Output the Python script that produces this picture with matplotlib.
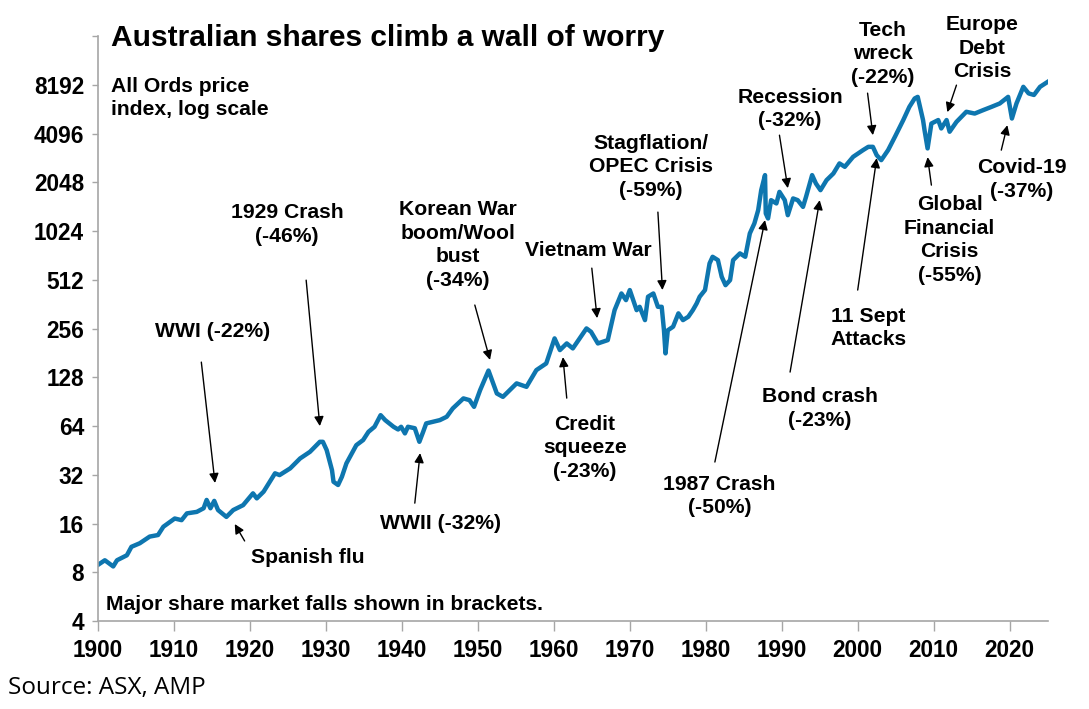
import numpy as np
import matplotlib
matplotlib.use('Agg')
import matplotlib.pyplot as plt
from matplotlib.ticker import FixedLocator, FixedFormatter

plt.rcParams['font.family'] = ['Liberation Sans', 'DejaVu Sans']

# All Ords price index
years = [1900.0, 1900.9, 1902.0, 1902.5, 1903.8, 1904.4, 1905.5, 1906.8, 1907.9, 1908.6,
         1910.1, 1911.0, 1911.7, 1913.0, 1913.9, 1914.3, 1914.8, 1915.3, 1915.8, 1916.9,
         1917.8, 1919.1, 1920.4, 1920.9, 1921.8, 1923.3, 1923.9, 1925.3, 1926.6, 1927.9,
         1929.2, 1929.6, 1930.1, 1930.8, 1931.0, 1931.6, 1932.1, 1932.7, 1934.0, 1934.9,
         1935.6, 1936.4, 1937.2, 1937.8, 1938.9, 1939.5, 1939.9, 1940.4, 1940.8, 1941.7,
         1942.3, 1942.8, 1943.2, 1945.0, 1945.9, 1946.7, 1948.1, 1948.9, 1949.5, 1950.3,
         1951.4, 1952.5, 1953.3, 1955.1, 1956.4, 1957.7, 1959.0, 1960.1, 1960.8, 1961.7,
         1962.5, 1964.3, 1964.9, 1965.8, 1967.1, 1968.0, 1968.9, 1969.5, 1970.0, 1970.9,
         1971.3, 1972.0, 1972.4, 1973.1, 1973.7, 1974.2, 1974.5, 1974.7, 1975.0, 1975.7,
         1976.4, 1977.0, 1977.7, 1978.3, 1978.8, 1979.2, 1979.9, 1980.5, 1980.9, 1981.6,
         1982.1, 1982.6, 1983.2, 1983.6, 1984.5, 1985.2, 1985.8, 1986.4, 1986.9, 1987.3,
         1987.8, 1987.9, 1988.2, 1988.6, 1989.3, 1989.7, 1990.4, 1990.8, 1991.5, 1992.1,
         1992.8, 1993.2, 1994.0, 1994.5, 1995.1, 1995.9, 1996.8, 1997.6, 1998.3, 1999.4,
         2000.7, 2001.4, 2002.0, 2002.5, 2003.1, 2004.0, 2004.9, 2006.0, 2006.8, 2007.5,
         2007.9, 2008.2, 2008.6, 2008.8, 2009.2, 2009.7, 2010.6, 2011.0, 2011.7, 2012.1,
         2013.0, 2014.3, 2015.4, 2016.5, 2017.6, 2018.7, 2019.8, 2020.3, 2020.9, 2021.8,
         2022.5, 2023.2, 2024.0, 2025.0]
index = [8.9, 9.5, 8.7, 9.5, 10.2, 11.5, 12.1, 13.3, 13.6, 15.3,
         17.2, 16.8, 18.5, 18.9, 19.9, 22.4, 19.9, 22.1, 19.4, 17.6,
         19.4, 20.8, 24.6, 22.9, 25.2, 32.7, 31.9, 35.1, 40.4, 44.4,
         51.2, 51.2, 45.5, 34.2, 29.0, 27.7, 31.1, 37.7, 48.8, 52.5,
         59.0, 63.4, 74.8, 69.7, 63.4, 61.0, 63.4, 57.7, 63.4, 62.1,
         51.2, 59.0, 66.5, 69.7, 73.1, 82.3, 94.9, 92.6, 84.2, 106.8,
         141, 101.8, 97, 117.5, 111.9, 141.9, 156, 222.8, 188.6, 207.4,
         193.2, 256.7, 244.6, 207.4, 217.4, 333, 422, 384, 443, 333,
         349, 289, 403, 422, 349, 349, 250, 180, 250, 263,
         318, 289, 303, 333, 366, 403, 443, 647, 711, 678,
         535, 475, 510, 678, 746, 711, 991, 1143, 1380, 1834,
         2271, 1317, 1226, 1591, 1518, 1790, 1591, 1285, 1630, 1591,
         1446, 1668, 2271, 2017, 1834, 2114, 2325, 2682, 2556, 2946,
         3240, 3396, 3396, 3017, 2810, 3240, 3915, 4970, 5992, 6756,
         6910, 5992, 4970, 4300, 3320, 4730, 4970, 4410, 4970, 4210,
         4840, 5590, 5450, 5720, 5992, 6290, 6910, 5080, 6290, 7970,
         7260, 7100, 7970, 8550]

yticks = [4, 8, 16, 32, 64, 128, 256, 512, 1024, 2048, 4096, 8192, 16384]
ytick_labels = ['4', '8', '16', '32', '64', '128', '256', '512', '1024', '2048', '4096', '8192', '']
xticks = [1900, 1910, 1920, 1930, 1940, 1950, 1960, 1970, 1980, 1990, 2000, 2010, 2020]

# (text, text position, arrow tail, arrow tip) in data units
events = [
    ('WWI (-22%)', (1915.1, 247), (1913.6, 159), (1915.4, 28.5)),
    ('Spanish flu', (1927.6, 9.94), (1919.3, 12.5), (1918.0, 15.9)),
    ('1929 Crash\n(-46%)', (1924.9, 1123), (1927.4, 510), (1929.2, 64)),
    ('Korean War\nboom/Wool\nbust\n(-34%)', (1947.4, 839), (1949.6, 358), (1951.6, 164)),
    ('Vietnam War', (1964.5, 782), (1965.0, 605), (1965.7, 297)),
    ('Stagflation/\nOPEC Crisis\n(-59%)', (1972.8, 2562), (1973.7, 1342), (1974.3, 443)),
    ('Credit\nsqueeze\n(-23%)', (1964.1, 47.1), (1961.7, 95.3), (1961.2, 170.7)),
    ('WWII (-32%)', (1945.1, 16.1), (1941.7, 21.4), (1942.4, 43.6)),
    ('1987 Crash\n(-50%)', (1981.8, 23.7), (1981.2, 38.4), (1987.8, 1198)),
    ('Recession\n(-32%)', (1991.1, 5804), (1989.7, 4008), (1990.8, 1887)),
    ('Bond crash\n(-23%)', (1995.0, 82.1), (1991.1, 138), (1995.0, 1591)),
    ('Tech\nwreck\n(-22%)', (2003.3, 12740), (2001.3, 7285), (2002.0, 4008)),
    ('11 Sept\nAttacks', (2001.4, 258), (2000.0, 443), (2002.5, 2890)),
    ('Europe\nDebt\nCrisis', (2016.4, 13816), (2013.0, 8164), (2011.8, 5560)),
    ('Global\nFinancial\nCrisis\n(-55%)', (2012.1, 901), (2009.7, 1970), (2009.2, 2933)),
    ('Covid-19\n(-37%)', (2021.6, 2130), (2018.9, 3240), (2019.7, 4620)),
]

fig = plt.figure(figsize=(10.89, 7.09), dpi=100)
ax = fig.add_axes([0.090, 0.124, 0.872, 0.825])
ax.plot(years, index, color='#0E76AF', lw=3.2, solid_joinstyle='round')
ax.set_yscale('log', base=2)
ax.set_ylim(4, 16384)
ax.set_xlim(1900, 2025)
ax.yaxis.set_major_locator(FixedLocator(yticks))
ax.yaxis.set_major_formatter(FixedFormatter(ytick_labels))
ax.yaxis.set_minor_locator(FixedLocator([]))
ax.set_xticks(xticks)
for s in ['top', 'right']:
    ax.spines[s].set_visible(False)
for s in ['left', 'bottom']:
    ax.spines[s].set_color('#A6A6A6')
    ax.spines[s].set_linewidth(1.2)
ax.tick_params(axis='y', length=4, width=1, color='#A6A6A6', labelsize=16.3, pad=6)
ax.tick_params(axis='x', length=7, width=1, color='#A6A6A6', labelsize=16.3, pad=6)
for lab in ax.get_xticklabels() + ax.get_yticklabels():
    lab.set_fontweight('bold')

for txt, pos, tail, tip in events:
    ax.text(pos[0], pos[1], txt, ha='center', va='center', fontsize=15.2,
            fontweight='bold', linespacing=1.3)
    ax.annotate('', xy=tip, xytext=tail,
                arrowprops=dict(arrowstyle='-|>', color='black', lw=1,
                                mutation_scale=14, shrinkA=0, shrinkB=0))

fig.text(0.102, 0.946, 'Australian shares climb a wall of worry', fontsize=21.5,
         fontweight='bold', ha='left', va='center')
fig.text(0.102, 0.862, 'All Ords price\nindex, log scale', fontsize=15.2,
         fontweight='bold', ha='left', va='center', linespacing=1.27)
fig.text(0.0973, 0.1467, 'Major share market falls shown in brackets.', fontsize=15.2,
         fontweight='bold', ha='left', va='center')
fig.text(0.007, 0.0296, 'Source: ASX, AMP', fontsize=17.5, ha='left', va='center',
         family=['Open Sans', 'DejaVu Sans'])

plt.savefig('out.png', dpi=100)
